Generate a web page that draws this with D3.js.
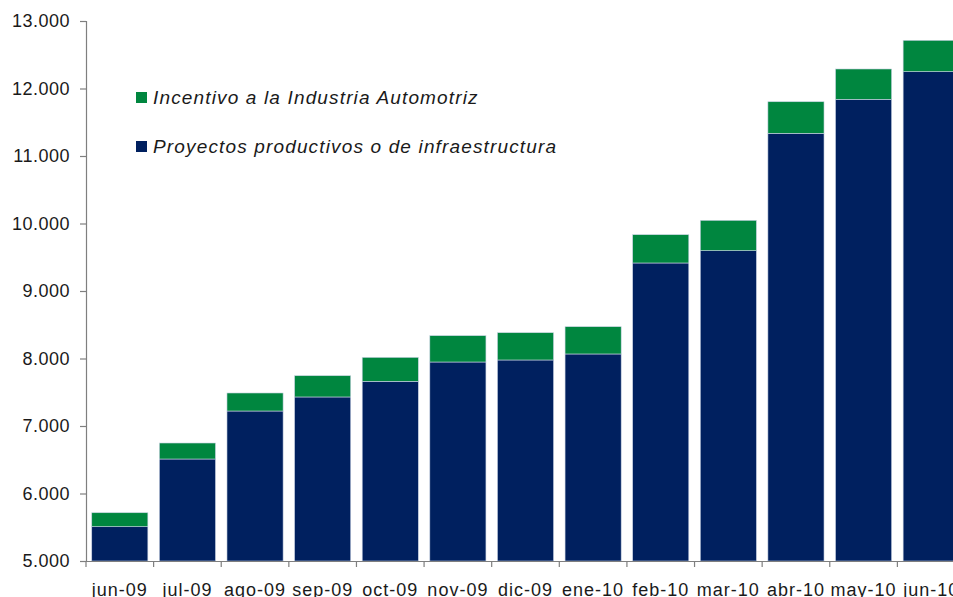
<!DOCTYPE html>
<html>
<head>
<meta charset="utf-8">
<script src="https://cdn.jsdelivr.net/npm/d3@7"></script>
<style>
  html, body { margin: 0; padding: 0; background: #fff; overflow: hidden; }
  svg { display: block; }
  text { font-family: "Liberation Sans", Arial, sans-serif; fill: #1a1a1a; }
</style>
</head>
<body>
<svg id="chart" width="953" height="597"></svg>
<script>
// Monthly cumulative amounts (millones)
const months = ["jun-09", "jul-09", "ago-09", "sep-09", "oct-09", "nov-09", "dic-09",
                "ene-10", "feb-10", "mar-10", "abr-10", "may-10", "jun-10"];
const proyectos = [5508, 6511, 7222, 7430, 7662, 7948, 7978, 8067, 9415, 9597, 11336, 11840, 12249];
const incentivo = [207, 237, 267, 315, 355, 390, 404, 404, 419, 450, 468, 449, 465];
const yTicks = [5000, 6000, 7000, 8000, 9000, 10000, 11000, 12000, 13000];
const seriesNames = ["Proyectos productivos o de infraestructura", "Incentivo a la Industria Automotriz"];
const seriesColors = ["#00205f", "#00863f"];
const legendOrder = [1, 0];

const svg = d3.select("#chart");
const plotLeft = 86, plotTop = 21, plotBottom = 561, plotRight = 965;

const x = d3.scaleBand().domain(months).range([plotLeft, plotRight])
  .paddingInner(0.17).paddingOuter(0.085);
const y = d3.scaleLinear().domain([5000, 13000]).range([plotBottom, plotTop]);

const fmt = d3.formatLocale({ decimal: ",", thousands: ".", grouping: [3], currency: ["$", ""] })
  .format(",.0f");

const rows = months.map((m, i) => ({ month: m, p: proyectos[i], a: incentivo[i] }));
const stack = d3.stack().keys(["p", "a"])(rows);

svg.append("clipPath").attr("id", "plotClip")
  .append("rect").attr("x", plotLeft).attr("y", 0).attr("width", 953).attr("height", plotBottom);

const g = svg.append("g").attr("clip-path", "url(#plotClip)");
g.selectAll("g.series").data(stack).join("g")
  .attr("class", "series")
  .attr("fill", (d, i) => seriesColors[i])
  .selectAll("rect").data(d => d).join("rect")
  .attr("x", d => x(d.data.month))
  .attr("width", x.bandwidth())
  .attr("y", d => y(d[1]))
  .attr("height", d => y(Math.max(d[0], 5000)) - y(d[1]))
  .attr("stroke", "#c9d3e3")
  .attr("stroke-width", 0.6);

// Y axis
const yAxis = svg.append("g").attr("transform", `translate(${plotLeft},0)`)
  .call(d3.axisLeft(y).tickValues(yTicks).tickFormat(fmt).tickSize(6).tickPadding(10));
yAxis.select(".domain").attr("stroke", "#7f7f7f").attr("stroke-width", 1.2);
yAxis.selectAll(".tick line").attr("stroke", "#7f7f7f").attr("stroke-width", 1.2);
yAxis.selectAll("text").style("font-size", "18px").style("letter-spacing", "0.5px")
  .attr("fill", "#1a1a1a");

// X axis: labels centred on bars, tick marks between categories
const xAxis = svg.append("g").attr("transform", `translate(0,${plotBottom})`)
  .call(d3.axisBottom(x).tickSize(0).tickPadding(22));
xAxis.select(".domain").attr("stroke", "#7f7f7f").attr("stroke-width", 1.2);
xAxis.selectAll("text").style("font-size", "18px").style("letter-spacing", "1px")
  .attr("fill", "#1a1a1a");

const step = x.step();
const edges = months.map(m => x(m) - x.paddingInner() * step / 2);
svg.append("g").selectAll("line").data(edges).join("line")
  .attr("x1", d => d).attr("x2", d => d)
  .attr("y1", plotBottom).attr("y2", plotBottom + 6)
  .attr("stroke", "#7f7f7f").attr("stroke-width", 1.2);

// Legend
const legend = svg.append("g");
legendOrder.forEach((si, k) => {
  const ly = 92 + k * 49;
  legend.append("rect").attr("x", 136).attr("y", ly).attr("width", 11).attr("height", 11)
    .attr("fill", seriesColors[si]);
  legend.append("text").attr("x", 153).attr("y", ly + 12)
    .style("font-size", "19px").style("font-style", "italic").style("letter-spacing", "1.15px")
    .text(seriesNames[si]);
});
</script>
</body>
</html>
